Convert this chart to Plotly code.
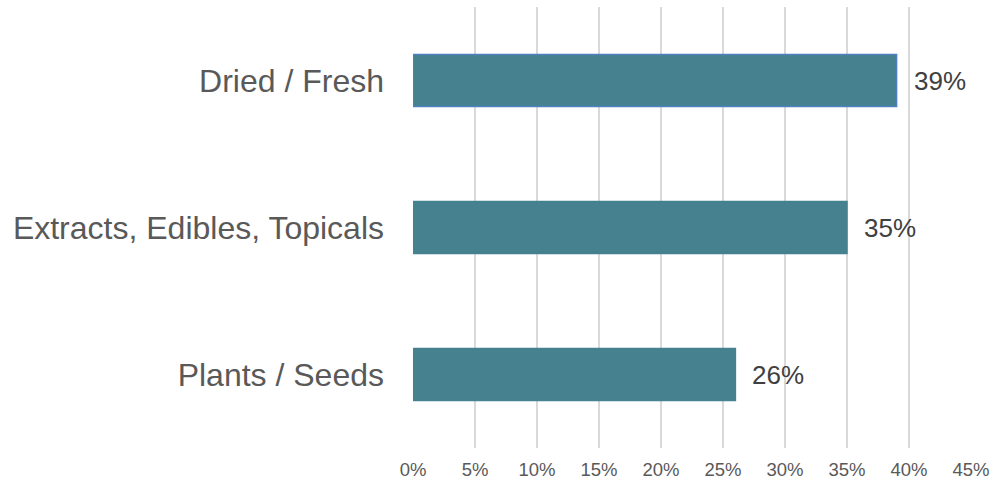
import plotly.graph_objects as go

categories = ["Plants / Seeds", "Extracts, Edibles, Topicals", "Dried / Fresh"]
shares = [26, 35, 39]
tick_values = [0, 5, 10, 15, 20, 25, 30, 35, 40, 45]
tick_labels = [f"{v}%" for v in tick_values]
value_labels = [f"{v}%" for v in shares]

bar_color = "#45818E"
outline_colors = [bar_color, bar_color, "#4F81BD"]

fig = go.Figure()
fig.add_trace(go.Bar(
    x=shares,
    y=categories,
    orientation="h",
    width=0.355,
    marker=dict(color=bar_color, line=dict(color=outline_colors, width=1.5)),
    hoverinfo="skip",
))

for cat, val, lab in zip(categories, shares, value_labels):
    fig.add_annotation(
        x=val, y=cat, text=lab, showarrow=False,
        xanchor="left", yanchor="middle", xshift=15,
        font=dict(family="Liberation Sans, Arial", size=26, color="#404040"),
    )

fig.update_layout(
    width=997, height=487,
    margin=dict(l=413, r=23, t=7, b=37),
    paper_bgcolor="white", plot_bgcolor="white",
    showlegend=False,
    font=dict(family="Liberation Sans, Arial", color="#595959"),
)
fig.update_xaxes(
    range=[0, 45],
    tickvals=tick_values, ticktext=tick_labels,
    showgrid=True, gridcolor="#D9D9D9", gridwidth=1.5,
    zeroline=False, showline=False,
    tickfont=dict(size=18.5, color="#595959"),
    ticks="", ticklabelstandoff=8,
)
fig.update_yaxes(
    showgrid=False, zeroline=False, showline=False,
    tickfont=dict(size=32, color="#595959"),
    ticks="", ticklabelstandoff=28,
)

fig.write_html("out.html")
